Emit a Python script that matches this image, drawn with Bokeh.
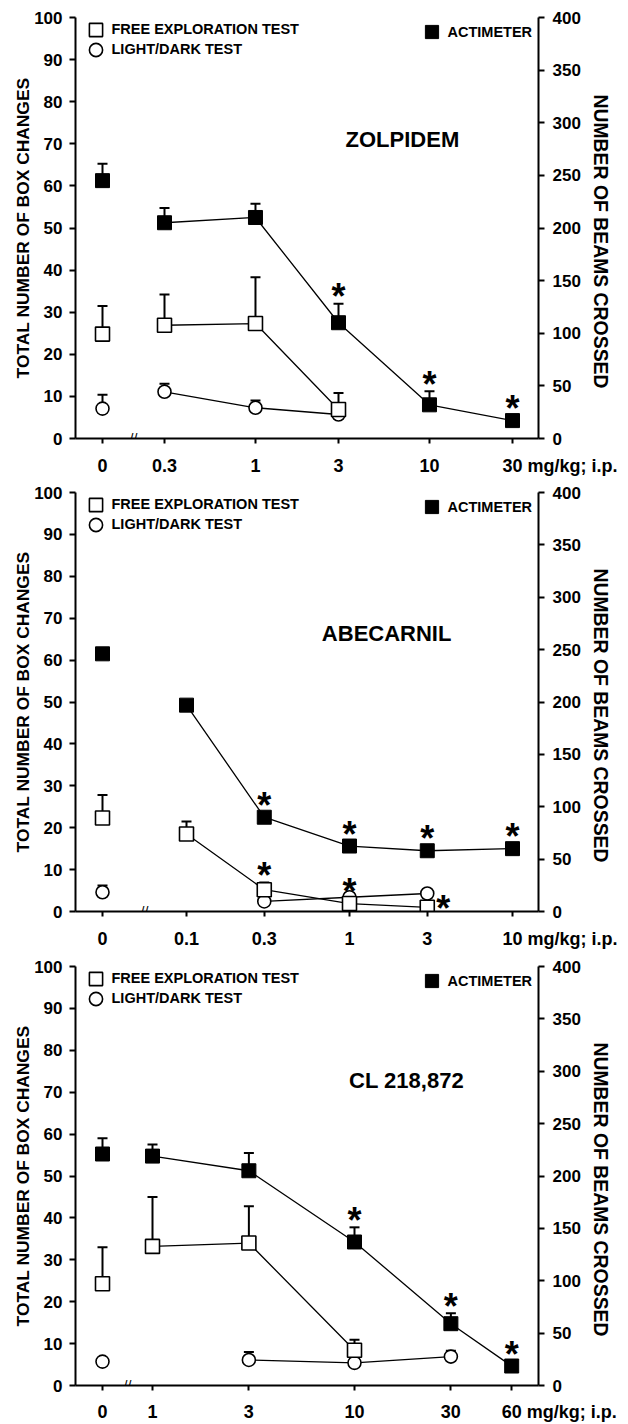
import math
from bokeh.plotting import figure
from bokeh.models import (Range1d, LinearAxis, FixedTicker, ColumnDataSource,
                          Whisker, TeeHead, Legend, LegendItem, Label)
from bokeh.layouts import column
from bokeh.core.properties import value
from bokeh.embed import file_html
from bokeh.resources import INLINE

FONT = "Liberation Sans"

# ---------------- data ----------------
# Panel 1: ZOLPIDEM
zol_doses = [0, 0.3, 1, 3, 10, 30]
zol_labels = ["0", "0.3", "1", "3", "10", "30"]
zol_act = [245, 205, 210, 110, 32, 17]            # beams crossed (right axis)
zol_act_err = [261, 219, 223, 128, 45, None]
zol_act_sig = ["", "", "", "above", "above", "above"]
zol_free = [24.8, 26.9, 27.3, 6.9, None, None]    # box changes (left axis)
zol_free_err = [31.5, 34.2, 38.3, 10.8, None, None]
zol_free_sig = ["", "", "", "", "", ""]
zol_ld = [7.1, 11.1, 7.3, 5.7, None, None]
zol_ld_err = [10.4, 13.0, 9.0, None, None, None]

# Panel 2: ABECARNIL
abe_doses = [0, 0.1, 0.3, 1, 3, 10]
abe_labels = ["0", "0.1", "0.3", "1", "3", "10"]
abe_act = [246, 197, 90, 62.5, 58, 60]
abe_act_err = [None, None, None, None, None, None]
abe_act_sig = ["", "", "above", "above", "above", "above"]
abe_free = [22.3, 18.5, 5.2, 1.9, 1.0, None]
abe_free_err = [27.8, 21.5, 6.9, None, None, None]
abe_free_sig = ["", "", "above", "above", "right", ""]
abe_ld = [4.6, None, 2.4, 3.4, 4.3, None]
abe_ld_err = [6.2, None, None, 4.3, None, None]

# Panel 3: CL 218,872
cl_doses = [0, 1, 3, 10, 30, 60]
cl_labels = ["0", "1", "3", "10", "30", "60"]
cl_act = [221, 219, 205, 137, 59, 18.6]
cl_act_err = [236, 230, 222, 151, 69, None]
cl_act_sig = ["", "", "", "above", "above", "above"]
cl_free = [24.3, 33.2, 34.0, 8.4, None, None]
cl_free_err = [33.0, 45.0, 42.8, 10.9, None, None]
cl_free_sig = ["", "", "", "", "", ""]
cl_ld = [5.7, None, 6.1, 5.4, 6.9, None]
cl_ld_err = [None, None, 8.0, None, 8.3, None]

left_ticks = list(range(0, 101, 10))
right_ticks = list(range(0, 401, 50))
unit_text = "mg/kg; i.p."

# ---------------- layout constants ----------------
FIG_W = 628
BL, BR = 75, 90
FRAME_W = FIG_W - BL - BR
CTRL_PAD = 27          # px from frame left to control tick
STAR_SIZE = "36px"
NBSP = "\u00a0"
GLYPH = 33             # legend glyph box -> marker ~13 px
INK = "black"


def style_text_axis(ax, size):
    ax.major_label_text_font = FONT
    ax.major_label_text_font_style = "bold"
    ax.major_label_text_font_size = size
    ax.major_label_text_color = INK
    ax.axis_label_text_font = FONT
    ax.axis_label_text_font_style = "bold"
    ax.axis_label_text_color = INK
    ax.axis_line_color = INK
    ax.major_tick_line_color = INK
    ax.axis_line_width = 2
    ax.major_tick_line_width = 2
    ax.major_tick_in = 0
    ax.major_tick_out = 6
    ax.minor_tick_line_color = None


def make_panel(name, doses, labels, act, act_err, act_sig, free, free_err, free_sig,
               ld, ld_err, ppd, gap_px, height, top, bottom, xstand, title_frac, title_y):
    fh = height - top - bottom
    ctrl_x = math.log10(doses[1]) - gap_px / ppd
    xs = [ctrl_x if d == 0 else math.log10(d) for d in doses]
    x0 = ctrl_x - CTRL_PAD / ppd
    x1 = x0 + FRAME_W / ppd

    p = figure(width=FIG_W, height=height, x_range=Range1d(x0, x1), y_range=Range1d(0, 100),
               output_backend="svg", toolbar_location=None,
               min_border_left=BL, min_border_right=BR, min_border_top=top,
               min_border_bottom=bottom)
    p.extra_y_ranges = {"beams": Range1d(0, 400)}
    p.grid.visible = False
    p.outline_line_color = None

    # x axis (last label carries the unit, padded so the number stays on its tick)
    tick_text = list(labels)
    tick_text[-1] = NBSP * 19 + labels[-1] + " " + unit_text
    xa = p.xaxis[0]
    style_text_axis(xa, "18px")
    xa.major_tick_out = 5
    xa.ticker = FixedTicker(ticks=xs)
    xa.major_label_overrides = {x: l for x, l in zip(xs, tick_text)}
    xa.major_label_standoff = xstand

    # left axis
    ya = p.yaxis[0]
    style_text_axis(ya, "17px")
    ya.ticker = FixedTicker(ticks=left_ticks)
    ya.axis_label = "TOTAL NUMBER OF BOX CHANGES"
    ya.axis_label_text_font_size = "17.4px"
    ya.major_label_standoff = 7
    ya.axis_label_standoff = -2

    # right axis
    ra = LinearAxis(y_range_name="beams", ticker=FixedTicker(ticks=right_ticks),
                    axis_label=NBSP * 5 + "NUMBER OF BEAMS CROSSED")
    style_text_axis(ra, "17px")
    ra.axis_label_text_font_size = "19.4px"
    ra.major_label_standoff = 8
    ra.axis_label_standoff = 6
    p.add_layout(ra, "right")

    def pts(vals, start=0):
        px, py = [], []
        for i, (x, v) in enumerate(zip(xs, vals)):
            if i >= start and v is not None:
                px.append(x)
                py.append(v)
        return px, py

    def whiskers(vals, errs, rng):
        bx, by, bu = [], [], []
        for x, v, e in zip(xs, vals, errs):
            if v is not None and e is not None:
                bx.append(x); by.append(v); bu.append(e)
        if not bx:
            return
        src = ColumnDataSource(dict(x=bx, y=by, up=bu))
        kw = {} if rng is None else {"y_range_name": rng}
        w = Whisker(source=src, base="x", lower="y", upper="up", dimension="height",
                    line_width=2, line_color=INK, level="underlay",
                    upper_head=TeeHead(size=10, line_width=2, line_color=INK),
                    lower_head=None, **kw)
        p.add_layout(w)

    def stars(vals, errs, sigs, rng):
        sx, sy, xo, yo = [], [], [], []
        for x, v, e, s in zip(xs, vals, errs, sigs):
            if not s or v is None:
                continue
            if s == "right":
                sx.append(x); sy.append(v); xo.append(16); yo.append(1)
            elif e is not None:
                sx.append(x); sy.append(e); xo.append(0); yo.append(-7)
            else:
                sx.append(x); sy.append(v); xo.append(0); yo.append(-12)
        if not sx:
            return
        src = ColumnDataSource(dict(x=sx, y=sy, xo=xo, yo=yo, t=["*"] * len(sx)))
        kw = {} if rng is None else {"y_range_name": rng}
        p.text(x="x", y="y", text="t", x_offset="xo", y_offset="yo", source=src,
               text_font=value(FONT), text_font_style="bold", text_font_size=STAR_SIZE,
               text_align="center", text_baseline="middle", text_color=INK, **kw)

    # error bars
    whiskers(act, act_err, "beams")
    whiskers(free, free_err, None)
    whiskers(ld, ld_err, None)

    # connecting lines (control not connected)
    lx, ly = pts(act, 1)
    p.line(lx, ly, line_color=INK, line_width=1.3, y_range_name="beams")
    lx, ly = pts(free, 1)
    p.line(lx, ly, line_color=INK, line_width=1.3)
    lx, ly = pts(ld, 1)
    p.line(lx, ly, line_color=INK, line_width=1.3)

    # markers
    mx, my = pts(ld)
    r_ld = p.scatter(mx, my, marker="circle", size=13, fill_color="white",
                     line_color=INK, line_width=1.6)
    mx, my = pts(free)
    r_free = p.scatter(mx, my, marker="square", size=14, fill_color="white",
                       line_color=INK, line_width=1.6)
    mx, my = pts(act)
    r_act = p.scatter(mx, my, marker="square", size=14, fill_color=INK,
                      line_color=INK, line_width=1, y_range_name="beams")

    stars(act, act_err, act_sig, "beams")
    stars(free, free_err, free_sig, None)

    # legends: one per entry
    common = dict(glyph_width=GLYPH, glyph_height=GLYPH, padding=0, spacing=0,
                  border_line_color=None, background_fill_alpha=0, label_standoff=0,
                  label_text_font=FONT, label_text_font_size="14.5px",
                  label_text_font_style="bold", label_text_color=INK, label_height=20)

    def legend(label, r, left, center):
        lg = Legend(items=[LegendItem(label=label, renderers=[r])],
                    location=(left, fh - center - GLYPH / 2), **common)
        p.add_layout(lg)

    legend("FREE EXPLORATION TEST", r_free, 3.5, 15)
    legend("LIGHT/DARK TEST", r_ld, 3.5, 35)
    legend("ACTIMETER", r_act, 339.5, 17.5)

    # drug name
    p.add_layout(Label(x=x0 + title_frac * (x1 - x0), y=title_y, text=name,
                       text_font=FONT, text_font_style="bold", text_font_size="22px",
                       text_color=INK, text_align="center", text_baseline="middle"))
    # axis break
    p.add_layout(Label(x=(xs[0] + xs[1]) / 2, y=0, text="//", text_font=FONT,
                       text_font_size="14px", text_color=INK, text_align="center",
                       text_baseline="alphabetic"))
    return p


p1 = make_panel("ZOLPIDEM", zol_doses, zol_labels, zol_act, zol_act_err, zol_act_sig,
                zol_free, zol_free_err, zol_free_sig, zol_ld, zol_ld_err,
                ppd=174, gap_px=62, height=478, top=17, bottom=37, xstand=12,
                title_frac=0.706, title_y=71)
p2 = make_panel("ABECARNIL", abe_doses, abe_labels, abe_act, abe_act_err, abe_act_sig,
                abe_free, abe_free_err, abe_free_sig, abe_ld, abe_ld_err,
                ppd=163, gap_px=84, height=473, top=14, bottom=37, xstand=12,
                title_frac=0.672, title_y=66.4)
p3 = make_panel("CL 218,872", cl_doses, cl_labels, cl_act, cl_act_err, cl_act_sig,
                cl_free, cl_free_err, cl_free_sig, cl_ld, cl_ld_err,
                ppd=202, gap_px=50, height=473, top=15, bottom=36, xstand=11,
                title_frac=0.715, title_y=72.8)

layout = column(p1, p2, p3, spacing=0)
open("out.html", "w").write(file_html(layout, INLINE))
